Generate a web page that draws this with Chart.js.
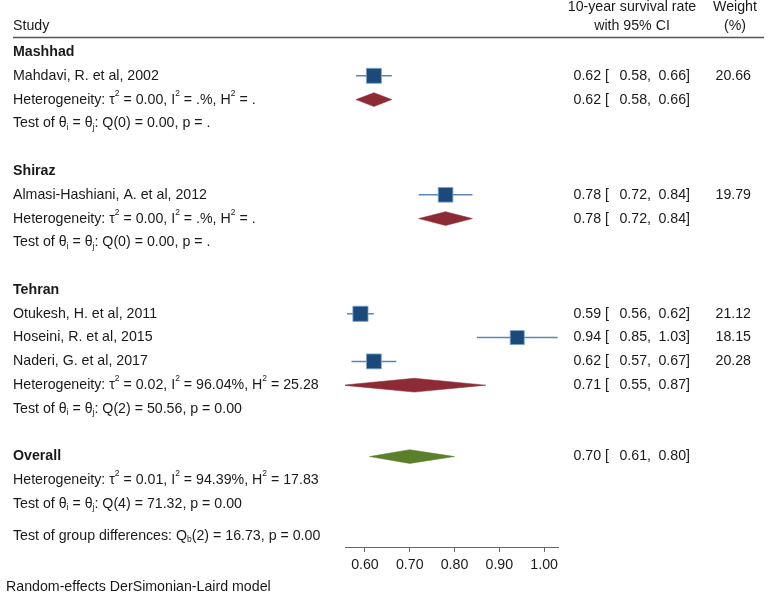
<!DOCTYPE html>
<html><head><meta charset="utf-8">
<script src="https://cdn.jsdelivr.net/npm/chart.js@4.4.1/dist/chart.umd.min.js"></script>
<style>html,body{margin:0;padding:0;background:#fff;}#wrap{width:774px;height:599px;position:relative;}</style>
</head><body><div id="wrap"><canvas id="c"></canvas></div>
<script>
// ---- data ----
const studies = ["Mahdavi, R. et al, 2002", "Almasi-Hashiani, A. et al, 2012", "Otukesh, H. et al, 2011", "Hoseini, R. et al, 2015", "Naderi, G. et al, 2017"];
const studyRows = [1, 6, 11, 12, 13];
const studyEst = [0.62, 0.78, 0.59, 0.94, 0.62];
const studyLo = [0.58, 0.72, 0.56, 0.85, 0.57];
const studyHi = [0.66, 0.84, 0.62, 1.03, 0.67];
const studyWeight = [20.66, 19.79, 21.12, 18.15, 20.28];

const groups = ["Mashhad", "Shiraz", "Tehran"];
const groupRows = [0, 5, 10];
const groupEst = [0.62, 0.78, 0.71];
const groupLo = [0.58, 0.72, 0.55];
const groupHi = [0.66, 0.84, 0.87];
const groupDiamondRows = [2, 7, 14];
const groupHet = ["Heterogeneity: τ^{2} = 0.00, I^{2} = .%, H^{2} = .", "Heterogeneity: τ^{2} = 0.00, I^{2} = .%, H^{2} = .", "Heterogeneity: τ^{2} = 0.02, I^{2} = 96.04%, H^{2} = 25.28"];
const groupTest = ["Test of θ_{i} = θ_{j}: Q(0) = 0.00, p = .", "Test of θ_{i} = θ_{j}: Q(0) = 0.00, p = .", "Test of θ_{i} = θ_{j}: Q(2) = 50.56, p = 0.00"];
const groupTestRows = [3, 8, 15];

const overallLabel = "Overall";
const overallRow = 17;
const overallEst = 0.70, overallLo = 0.61, overallHi = 0.80;
const overallHet = "Heterogeneity: τ^{2} = 0.01, I^{2} = 94.39%, H^{2} = 17.83";
const overallTest = "Test of θ_{i} = θ_{j}: Q(4) = 71.32, p = 0.00";
const groupDiffText = "Test of group differences: Q_{b}(2) = 16.73, p = 0.00";
const footerText = "Random-effects DerSimonian-Laird model";

const xTicks = [0.60, 0.70, 0.80, 0.90, 1.00];
const xMin = 0.5555, xMax = 1.031;

// ---- styles ----
const FONT = '"Liberation Sans", Arial, sans-serif';
const FS = 14.2;
const SQ_FILL = '#1b4a7a', SQ_BORDER = '#7ea6cc', CI_COLOR = '#5a88b6';
const GRP_COLOR = '#8c2b36', OVR_COLOR = '#5b7f2b';

const datasets = [];
// CI lines
studies.forEach((s, i) => {
  datasets.push({type: 'line', data: [{x: studyLo[i], y: studyRows[i]}, {x: studyHi[i], y: studyRows[i]}],
    borderColor: CI_COLOR, borderWidth: 1.5, pointRadius: 0, fill: false, order: 2});
});
// squares
datasets.push({type: 'scatter', data: studies.map((s, i) => ({x: studyEst[i], y: studyRows[i]})),
  pointStyle: 'rect', pointRadius: studyWeight.map(w => Math.sqrt(w) * 3.3 / Math.SQRT2),
  backgroundColor: SQ_FILL, borderColor: SQ_BORDER, borderWidth: 0.8, order: 1});
// diamonds
function diamond(est, lo, hi, row, color) {
  const h = 0.29;
  return {type: 'line', data: [{x: lo, y: row}, {x: est, y: row - h}, {x: hi, y: row}, {x: est, y: row + h}, {x: lo, y: row}],
    borderColor: color, backgroundColor: color, borderWidth: 0.5, pointRadius: 0, fill: 'shape', tension: 0, order: 1};
}
groups.forEach((g, i) => datasets.push(diamond(groupEst[i], groupLo[i], groupHi[i], groupDiamondRows[i], GRP_COLOR)));
datasets.push(diamond(overallEst, overallLo, overallHi, overallRow, OVR_COLOR));

function drawRich(ctx, str, x, y, size, bold, align) {
  const parts = [];
  const re = /([\^_])\{([^}]*)\}/g;
  let last = 0, m;
  while ((m = re.exec(str)) !== null) {
    if (m.index > last) parts.push({t: str.slice(last, m.index), k: 'n'});
    parts.push({t: m[2], k: m[1] === '^' ? 'sup' : 'sub'});
    last = re.lastIndex;
  }
  if (last < str.length) parts.push({t: str.slice(last), k: 'n'});
  const w = bold ? 'bold ' : '';
  const fontN = w + size + 'px ' + FONT;
  const fontS = w + (size * 0.6).toFixed(1) + 'px ' + FONT;
  let total = 0;
  parts.forEach(p => { ctx.font = p.k === 'n' ? fontN : fontS; p.w = ctx.measureText(p.t).width; total += p.w; });
  let cx = align === 'right' ? x - total : (align === 'center' ? x - total / 2 : x);
  ctx.textAlign = 'left';
  ctx.textBaseline = 'middle';
  parts.forEach(p => {
    ctx.font = p.k === 'n' ? fontN : fontS;
    const dy = p.k === 'sup' ? -size * 0.45 : (p.k === 'sub' ? size * 0.28 : 0);
    ctx.fillText(p.t, cx, y + dy);
    cx += p.w;
  });
}

const textPlugin = {
  id: 'forestText',
  afterDraw(chart) {
    const ctx = chart.ctx, ys = chart.scales.y;
    const Y = r => ys.getPixelForValue(r);
    ctx.save();
    ctx.fillStyle = '#1a1a1a';
    const LX = 13;
    drawRich(ctx, 'Study', LX, Y(-1.09), FS, false, 'left');
    drawRich(ctx, '10-year survival rate', 632, Y(-1.88), FS, false, 'center');
    drawRich(ctx, 'with 95% CI', 632, Y(-1.09), FS, false, 'center');
    drawRich(ctx, 'Weight', 735, Y(-1.88), FS, false, 'center');
    drawRich(ctx, '(%)', 735, Y(-1.09), FS, false, 'center');
    ctx.strokeStyle = '#555';
    ctx.lineWidth = 1.5;
    ctx.beginPath();
    const ly = Math.round(Y(-0.62)) + 0.5;
    ctx.moveTo(13, ly); ctx.lineTo(764, ly); ctx.stroke();
    const ci = (est, lo, hi, row) => {
      const y = Y(row);
      drawRich(ctx, est.toFixed(2) + ' [', 609, y, FS, false, 'right');
      drawRich(ctx, lo.toFixed(2) + ',', 651, y, FS, false, 'right');
      drawRich(ctx, hi.toFixed(2) + ']', 690, y, FS, false, 'right');
    };
    groups.forEach((g, i) => {
      drawRich(ctx, g, LX, Y(groupRows[i]), FS, true, 'left');
      drawRich(ctx, groupHet[i], LX, Y(groupDiamondRows[i]), FS, false, 'left');
      drawRich(ctx, groupTest[i], LX, Y(groupTestRows[i]), FS, false, 'left');
      ci(groupEst[i], groupLo[i], groupHi[i], groupDiamondRows[i]);
    });
    studies.forEach((s, i) => {
      drawRich(ctx, s, LX, Y(studyRows[i]), FS, false, 'left');
      ci(studyEst[i], studyLo[i], studyHi[i], studyRows[i]);
      drawRich(ctx, studyWeight[i].toFixed(2), 751, Y(studyRows[i]), FS, false, 'right');
    });
    drawRich(ctx, overallLabel, LX, Y(overallRow), FS, true, 'left');
    ci(overallEst, overallLo, overallHi, overallRow);
    drawRich(ctx, overallHet, LX, Y(overallRow + 1), FS, false, 'left');
    drawRich(ctx, overallTest, LX, Y(overallRow + 2), FS, false, 'left');
    drawRich(ctx, groupDiffText, LX, Y(20.34), FS, false, 'left');
    drawRich(ctx, footerText, 6, Y(22.48), FS, false, 'left');
    ctx.restore();
  }
};

new Chart(document.getElementById('c'), {
  type: 'scatter',
  data: {datasets},
  options: {
    responsive: true, maintainAspectRatio: false, animation: false,
    layout: {autoPadding: false, padding: {left: 345, right: 216, top: 0, bottom: 0}},
    plugins: {legend: {display: false}, tooltip: {enabled: false}},
    scales: {
      x: {type: 'linear', min: xMin, max: xMax,
        afterBuildTicks: s => { s.ticks = xTicks.map(v => ({value: v})); },
        afterFit: s => { s.height = 52; },
        grid: {drawOnChartArea: false, drawTicks: true, tickLength: 5, color: '#666', tickWidth: 1},
        border: {display: true, color: '#666', width: 1},
        ticks: {callback: v => Number(v).toFixed(2), color: '#1a1a1a', font: {family: FONT, size: FS}, padding: 5, maxRotation: 0, autoSkip: false}
      },
      y: {type: 'linear', display: false, reverse: true, min: -2.186, max: 20.80}
    }
  },
  plugins: [textPlugin]
});
</script></body></html>
